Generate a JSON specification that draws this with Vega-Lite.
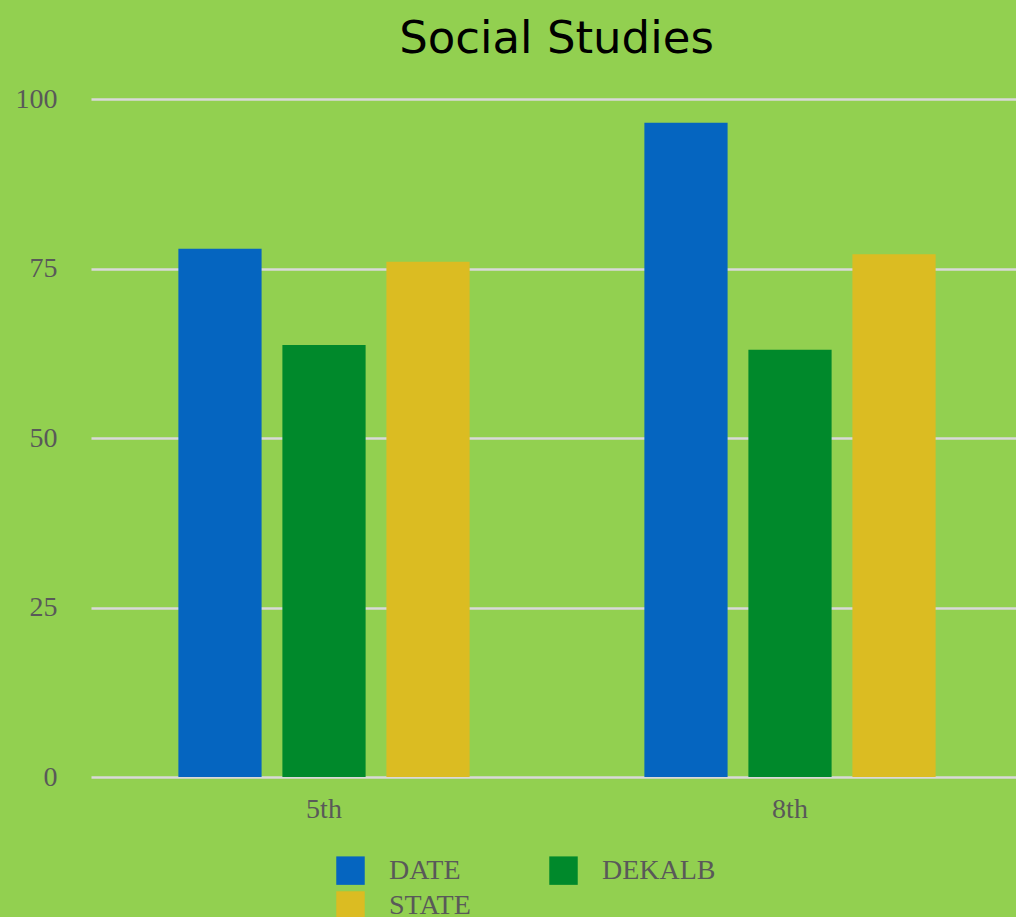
{
  "$schema": "https://vega.github.io/schema/vega-lite/v6.json",
  "width": 925,
  "height": 678,
  "autosize": {"type": "none"},
  "padding": {"left": 91, "top": 99, "right": 0, "bottom": 140},
  "background": "#92D050",
  "title": {
    "text": "Social Studies",
    "font": "DejaVu Sans",
    "fontSize": 45,
    "fontWeight": "normal",
    "color": "#000000",
    "anchor": "middle",
    "offset": 0,
    "dy": -23,
    "dx": 3
  },
  "data": {
    "values": [
      {"grade": "5th", "series": "DATE", "value": 77.9},
      {"grade": "5th", "series": "DEKALB", "value": 63.7},
      {"grade": "5th", "series": "STATE", "value": 76.0},
      {"grade": "8th", "series": "DATE", "value": 96.5},
      {"grade": "8th", "series": "DEKALB", "value": 63.0},
      {"grade": "8th", "series": "STATE", "value": 77.1}
    ]
  },
  "mark": {"type": "bar"},
  "encoding": {
    "x": {
      "field": "grade",
      "type": "nominal",
      "sort": ["5th", "8th"],
      "scale": {"range": [0, 932], "paddingInner": 0, "paddingOuter": 0},
      "axis": {
        "title": null,
        "domain": false,
        "ticks": false,
        "tickSize": 0,
        "labelAngle": 0,
        "labelFont": "Liberation Serif",
        "labelFontSize": 28,
        "labelColor": "#595959",
        "labelPadding": 18,
        "labelBaseline": "top"
      }
    },
    "xOffset": {
      "field": "series",
      "type": "nominal",
      "sort": ["DATE", "DEKALB", "STATE"],
      "scale": {"paddingInner": 0.2, "paddingOuter": 0.84}
    },
    "y": {
      "field": "value",
      "type": "quantitative",
      "scale": {"domain": [0, 100], "nice": false},
      "axis": {
        "title": null,
        "values": [0, 25, 50, 75, 100],
        "domain": false,
        "ticks": false,
        "tickSize": 0,
        "grid": true,
        "gridColor": "#D9D9D9",
        "gridWidth": 2.5,
        "labelFont": "Liberation Serif",
        "labelFontSize": 28,
        "labelColor": "#595959",
        "labelPadding": 34
      }
    },
    "color": {
      "field": "series",
      "type": "nominal",
      "sort": ["DATE", "DEKALB", "STATE"],
      "scale": {
        "domain": ["DATE", "DEKALB", "STATE"],
        "range": ["#0565C0", "#00892B", "#DBBC22"]
      },
      "legend": {
        "title": null,
        "orient": "none",
        "legendX": 245,
        "legendY": 757,
        "direction": "horizontal",
        "columns": 2,
        "symbolType": "square",
        "symbolSize": 810,
        "symbolStrokeWidth": 0,
        "labelFont": "Liberation Serif",
        "labelFontSize": 28,
        "labelColor": "#595959",
        "labelOffset": 24,
        "columnPadding": 78,
        "rowPadding": 6,
        "padding": 0
      }
    }
  },
  "config": {"view": {"stroke": null}}
}
